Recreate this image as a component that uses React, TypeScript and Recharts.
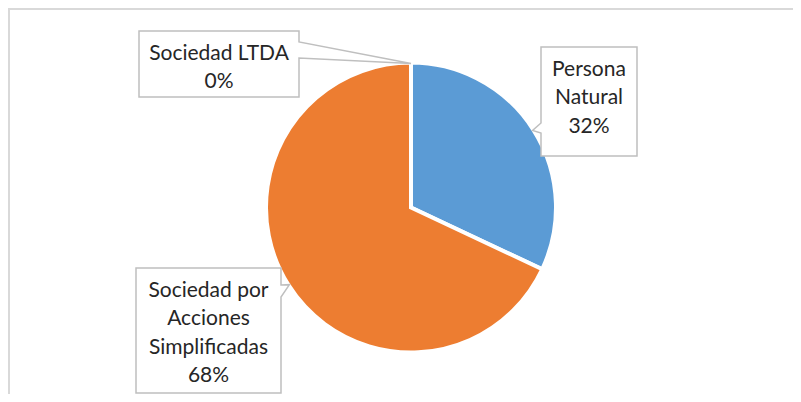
import { PieChart, Pie, Cell } from 'recharts';

const categories = ['Persona Natural', 'Sociedad por Acciones Simplificadas', 'Sociedad LTDA'];
const shares = [32, 68, 0];
const labelLines = [['Persona', 'Natural'], ['Sociedad por', 'Acciones', 'Simplificadas'], ['Sociedad LTDA']];
const colors = ['#5b9bd5', '#ed7d31', '#a5a5a5'];
const chartTitle = 'Organización';

// callout boxes, placed relative to the pie centre
const callouts = [
  { dx: 130, dy: -160.5, w: 96, h: 109, side: 'left', t1: 76, t2: 86 },
  { dx: -275, dy: 60.5, w: 145, h: 125, side: 'right', t1: 17, t2: 29 },
  { dx: -272, dy: -176.5, w: 160, h: 66, side: 'right', t1: 11, t2: 27 },
];

const data = categories.map((name, i) => ({ name, value: shares[i] }));

const FONT = 'Lato, "Liberation Sans", sans-serif';
const RAD = Math.PI / 180;

function renderCallout(props: any) {
  const { cx, cy, midAngle, outerRadius, index, percent } = props;
  const c = callouts[index];
  const tipX = cx + (outerRadius - 1) * Math.cos(-midAngle * RAD);
  const tipY = cy + (outerRadius - 1) * Math.sin(-midAngle * RAD);
  const x = cx + c.dx;
  const y = cy + c.dy;
  const path =
    c.side === 'right'
      ? `M${x},${y} H${x + c.w} V${y + c.t1} L${tipX},${tipY} L${x + c.w},${y + c.t2} V${y + c.h} H${x} Z`
      : `M${x},${y} H${x + c.w} V${y + c.h} H${x} V${y + c.t2} L${tipX},${tipY} L${x},${y + c.t1} Z`;
  const lines = [...labelLines[index], `${Math.round(percent * 100)}%`];
  return (
    <g key={`callout-${index}`}>
      <path d={path} fill="#ffffff" stroke="#bfbfbf" strokeWidth={1.5} />
      {lines.map((t, j) => (
        <text
          key={j}
          x={x + c.w / 2}
          y={y + 28.5 + j * 28.5}
          textAnchor="middle"
          fill="#262626"
          fontSize={21}
          fontFamily={FONT}
        >
          {t}
        </text>
      ))}
    </g>
  );
}

export default function App() {
  return (
    <div style={{ position: 'relative', width: 801, height: 402, margin: -8, overflow: 'hidden', background: '#fff' }}>
      <div
        style={{
          position: 'absolute',
          left: 8,
          top: 8,
          width: 800,
          height: 400,
          borderTop: '2px solid #d9d9d9',
          borderLeft: '2px solid #d9d9d9',
        }}
      />
      <svg width={801} height={402} style={{ position: 'absolute', left: 0, top: 0 }}>
        <text x={400} y={1} textAnchor="middle" fontSize={21} fontFamily={FONT} fill="#595959">
          {chartTitle}
        </text>
      </svg>
      <div style={{ position: 'absolute', left: 0, top: 0 }}>
        <PieChart width={801} height={402} margin={{ top: 0, right: 0, bottom: 0, left: 0 }}>
          <Pie
            data={data}
            dataKey="value"
            nameKey="name"
            cx={411}
            cy={207.5}
            outerRadius={145}
            startAngle={90}
            endAngle={-270}
            stroke="#ffffff"
            strokeWidth={4}
            label={renderCallout}
            labelLine={false}
            isAnimationActive={false}
          >
            {data.map((d, i) => (
              <Cell key={d.name} fill={colors[i]} />
            ))}
          </Pie>
        </PieChart>
      </div>
    </div>
  );
}
